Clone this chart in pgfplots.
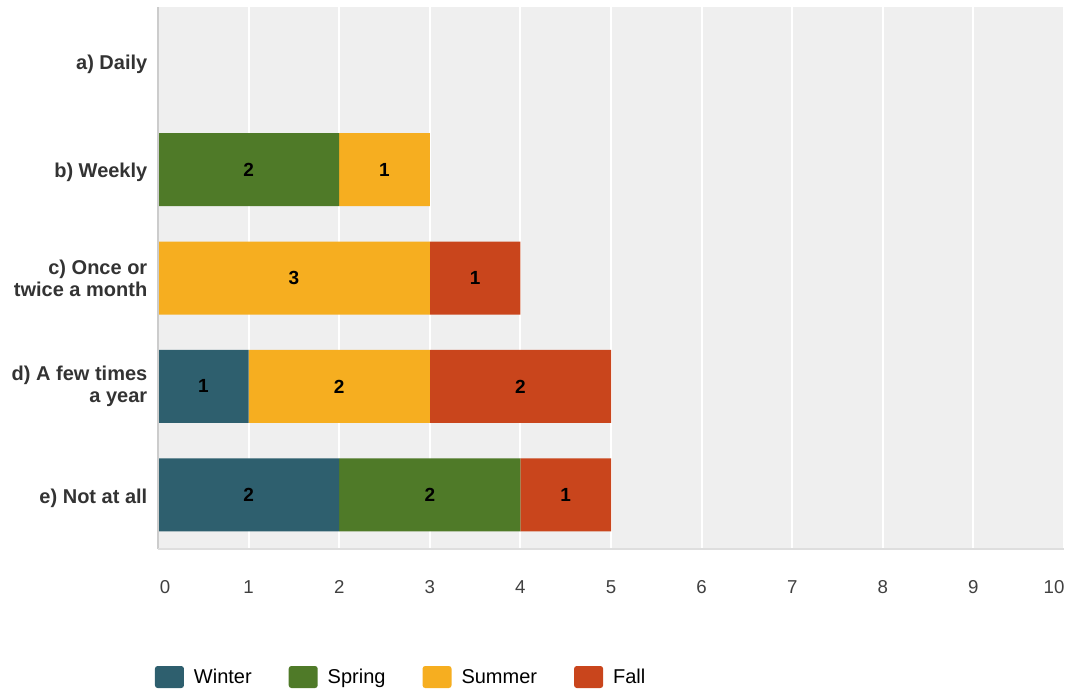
\documentclass[border=0pt]{standalone}
\usepackage{fontspec}
\setmainfont{Liberation Sans}
\usepackage{pgfplots}
\usepackage{pgfplotstable}
\pgfplotsset{compat=1.18}
\definecolor{cWinter}{HTML}{2E5F6E}
\definecolor{cSpring}{HTML}{4F7A28}
\definecolor{cSummer}{HTML}{F6AE20}
\definecolor{cFall}{HTML}{C9451C}
\definecolor{bg}{HTML}{EFEFEF}
\pgfplotstableread{
idx Winter Spring Summer Fall
0 0 0 0 0
1 0 2 1 0
2 0 0 3 1
3 1 0 2 2
4 2 2 0 1
}\datatable
\pgfplotsset{
  lbl/.style={
    visualization depends on={\thisrow{#1}\as\segv},
    nodes near coords={\pgfmathparse{\segv>0}\ifnum\pgfmathresult=1 \pgfmathprintnumber{\segv}\fi},
    every node near coord/.append style={anchor=center, font=\fontsize{14.25pt}{16pt}\selectfont\bfseries, text=black},
  }
}
\newcommand{\lowr}[1]{\raisebox{-2.25pt}[11pt][3.2pt]{#1}}
\begin{document}
\begin{tikzpicture}
\begin{axis}[
  at={(118.5pt,107.25pt)}, anchor=south west,
  scale only axis, width=679.5pt, height=406.5pt,
  xbar stacked, bar width=54.75pt,
  xmin=0, xmax=10, ymin=-0.5, ymax=4.5, y dir=reverse,
  xtick={0,...,10}, ytick={0,...,4},
  xticklabels={{\hspace*{10.5pt}0},1,2,3,4,5,6,7,8,9,{10\hspace*{15pt}}},
  yticklabels={{\lowr{a) Daily}},{\lowr{b) Weekly}},{c) Once or\\twice a month},{d) A few times\\a year},{\lowr{e) Not at all}}},
  major tick length=0pt,
  xmajorgrids, major grid style={white, line width=1.5pt},
  axis background/.style={fill=bg},
  axis line style={draw=none},
  /pgf/number format/assume math mode=true,
  xticklabel style={font=\fontsize{14pt}{16pt}\selectfont, text=black!75, anchor=north, yshift=-19pt, text height=10.5pt, text depth=0pt},
  yticklabel style={font=\fontsize{15pt}{16.5pt}\selectfont\bfseries, text=black!80, align=right, xshift=-4.5pt},
  legend style={at={(axis description cs:0,0)}, anchor=west, xshift=-2.5pt, yshift=-96pt, draw=none, fill=none, inner sep=0pt, legend columns=-1, font=\fontsize{15pt}{17pt}\selectfont, nodes={inner sep=0pt}, /tikz/every odd column/.append style={column sep=7.5pt}, /tikz/every even column/.append style={column sep=27.75pt, text height=10.8pt, text depth=3.2pt}},
  legend image code/.code={\path[#1, draw=none, rounded corners=2pt] (0pt,-8.25pt) rectangle (21.75pt,8.25pt);},
  after end axis/.code={
    \draw[black!20, line width=1.5pt] (axis description cs:0,0) -- (axis description cs:0,1);
    \draw[black!13, line width=2.2pt] (axis description cs:0,0) -- (axis description cs:1,0);
  },
]
\addplot[fill=cWinter, draw=none, lbl=Winter] table[x=Winter, y=idx] {\datatable};
\addplot[fill=cSpring, draw=none, lbl=Spring] table[x=Spring, y=idx] {\datatable};
\addplot[fill=cSummer, draw=none, lbl=Summer] table[x=Summer, y=idx] {\datatable};
\addplot[fill=cFall, draw=none, lbl=Fall] table[x=Fall, y=idx] {\datatable};
\legend{Winter,Spring,Summer,Fall}
\end{axis}
\pgfresetboundingbox
\useasboundingbox (0,0) rectangle (801.75pt,519pt);
\end{tikzpicture}
\end{document}
